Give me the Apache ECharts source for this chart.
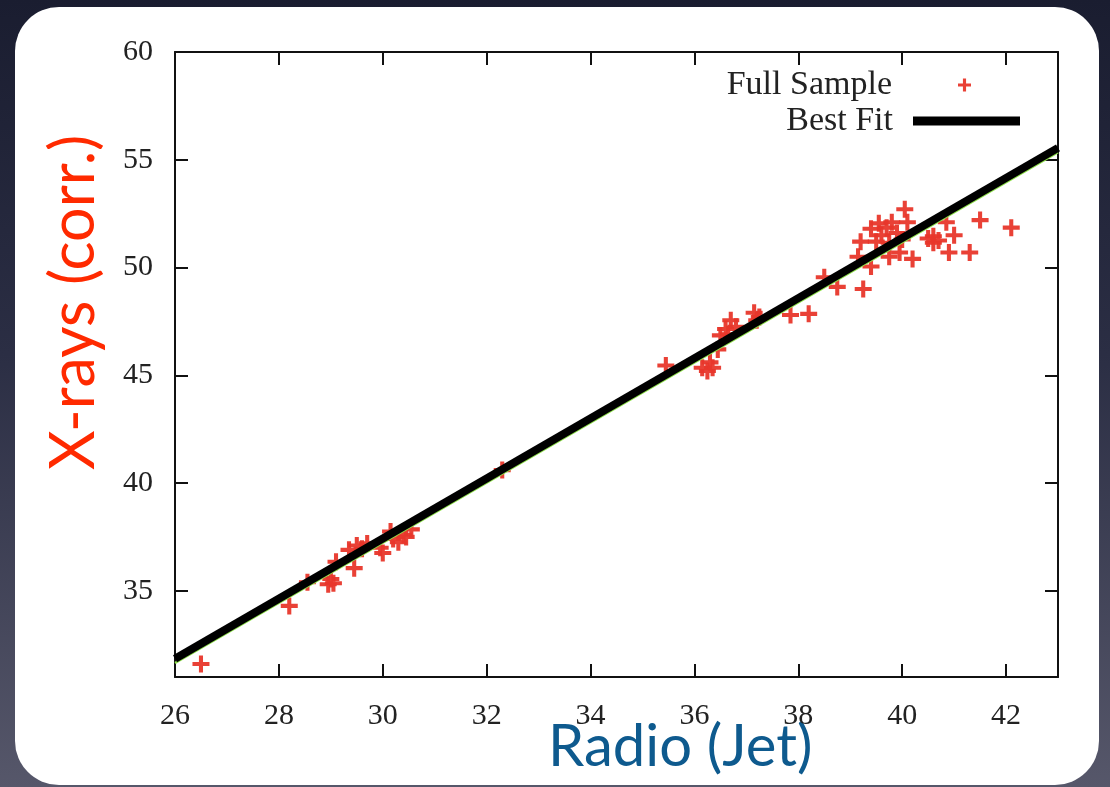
<!DOCTYPE html>
<html>
<head>
<meta charset="utf-8">
<script src="https://cdn.jsdelivr.net/npm/echarts@6/dist/echarts.min.js"></script>
<style>
html,body{margin:0;padding:0;width:1110px;height:787px;overflow:hidden;}
body{background:linear-gradient(to bottom,#1a1d30 0%,#2b2e44 45%,#56576a 100%);position:relative;}
#panel{position:absolute;left:15px;top:7px;width:1084px;height:778px;background:#fff;border-radius:44px;}
#chart{position:absolute;left:0;top:0;width:1110px;height:787px;}
</style>
</head>
<body>
<div id="panel"></div>
<div id="chart"></div>
<script>
// Full sample (Radio jet luminosity vs corrected X-ray luminosity)
const radioX = [26.5, 28.2, 28.55, 28.95, 29.0, 29.05, 29.1, 29.45, 29.35, 29.5, 29.6, 29.7, 29.95, 30.0, 30.15, 30.3, 30.2, 30.4, 30.45, 30.55,
  32.3, 35.45, 36.15, 36.25, 36.35, 36.3, 36.45, 36.5, 36.6, 36.65, 36.7, 36.8, 37.15, 37.2, 37.25, 37.85, 38.2,
  38.5, 38.75, 39.25, 39.2, 39.15, 39.4, 39.55, 39.4, 39.7, 39.8, 39.75, 39.75, 40.05, 40.1, 39.95, 40.2, 39.9, 39.6,
  40.5, 40.6, 40.6, 40.7, 40.85, 41.0, 40.9, 41.3, 41.5, 42.1, 39.5, 40.0];
const xrayY = [31.6, 34.3, 35.4, 35.3, 35.55, 35.35, 36.35, 36.05, 36.9, 37.1, 36.95, 37.2, 37.0, 36.75, 37.75, 37.25, 37.4, 37.6, 37.5, 37.85,
  40.6, 45.45, 45.35, 45.2, 45.35, 45.6, 46.2, 46.85, 47.15, 46.9, 47.55, 47.25, 47.9, 47.55, 47.7, 47.8, 47.85,
  49.55, 49.1, 49.0, 51.2, 50.5, 50.05, 52.05, 51.8, 51.85, 52.1, 51.15, 50.5, 52.7, 52.1, 50.7, 50.4, 51.6, 51.5,
  51.35, 51.45, 51.15, 51.25, 52.1, 51.5, 50.7, 50.7, 52.2, 51.85, 51.2, 51.3];
// Best fit line endpoints
const fitX = [26, 43];
const fitY = [31.85, 55.55];
const fitGreenY = [31.65, 55.35];
// Tick labels
const xTicks = [26, 28, 30, 32, 34, 36, 38, 40, 42];
const yTicks = [35, 40, 45, 50, 55, 60];

const pts = radioX.map((x, i) => [x, xrayY[i]]);
const fitLine = fitX.map((x, i) => [x, fitY[i]]);
const greenLine = fitX.map((x, i) => [x, fitGreenY[i]]);

const plus = 'path://M3.8,0H6.2V3.8H10V6.2H6.2V10H3.8V6.2H0V3.8H3.8Z';
const serif = 'Liberation Serif';
const axLine = {show: true, lineStyle: {color: '#111', width: 2}};

const chart = echarts.init(document.getElementById('chart'), null, {renderer: 'canvas'});
chart.setOption({
  backgroundColor: 'transparent',
  animation: false,
  grid: {left: 175, right: 52, top: 52, bottom: 110},
  legend: [
    {data: ['Full Sample'], orient: 'horizontal', align: 'right', right: 139, top: 68, padding: 0,
     itemWidth: 13, itemHeight: 13, selectedMode: false,
     textStyle: {fontFamily: serif, fontSize: 34, color: '#222', padding: [0, 61, 0, 0]}},
    {data: [{name: 'Best Fit', icon: 'rect', itemStyle: {color: '#000'}}], orient: 'horizontal', align: 'right', right: 90, top: 104, padding: 0,
     itemWidth: 107, itemHeight: 9, selectedMode: false,
     textStyle: {fontFamily: serif, fontSize: 34, color: '#222', padding: [0, 15, 0, 0]}}
  ],
  xAxis: [
    {type: 'value', min: 26, max: 43, position: 'bottom', axisLine: axLine, splitLine: {show: false},
     axisTick: {inside: true, length: 13, customValues: xTicks, lineStyle: {color: '#111', width: 2}},
     axisLabel: {customValues: xTicks, margin: 24, fontFamily: serif, fontSize: 30, color: '#222'}},
    {type: 'value', min: 26, max: 43, position: 'top', axisLine: axLine, splitLine: {show: false},
     axisTick: {inside: true, length: 13, customValues: xTicks, lineStyle: {color: '#111', width: 2}},
     axisLabel: {show: false}}
  ],
  yAxis: [
    {type: 'value', min: 31, max: 60, position: 'left', axisLine: axLine, splitLine: {show: false},
     axisTick: {inside: true, length: 13, customValues: yTicks, lineStyle: {color: '#111', width: 2}},
     axisLabel: {customValues: yTicks, margin: 22, fontFamily: serif, fontSize: 30, color: '#222'}},
    {type: 'value', min: 31, max: 60, position: 'right', axisLine: axLine, splitLine: {show: false},
     axisTick: {inside: true, length: 13, customValues: yTicks, lineStyle: {color: '#111', width: 2}},
     axisLabel: {show: false}}
  ],
  graphic: [
    {type: 'text', left: 548, top: 718, style: {text: 'Radio (Jet)', fontFamily: 'Lato', fontSize: 58, fill: '#0e5a8e'}},
    {type: 'text', x: 44, y: 470, rotation: Math.PI / 2, originX: 0, originY: 0,
     style: {text: 'X-rays (corr.)', fontFamily: 'Lato', fontSize: 61, fill: '#ff2a00'}}
  ],
  series: [
    {name: 'Full Sample', type: 'scatter', data: pts, symbol: plus, symbolSize: 17,
     itemStyle: {color: '#e8372b', opacity: 0.95}, z: 2},
    {name: 'fitGreen', type: 'line', data: greenLine, symbol: 'none', silent: true,
     lineStyle: {color: '#8ee04a', width: 2.5}, z: 3},
    {name: 'Best Fit', type: 'line', data: fitLine, symbol: 'none',
     lineStyle: {color: '#000', width: 8}, itemStyle: {color: '#000'}, z: 4}
  ]
});
</script>
</body>
</html>
